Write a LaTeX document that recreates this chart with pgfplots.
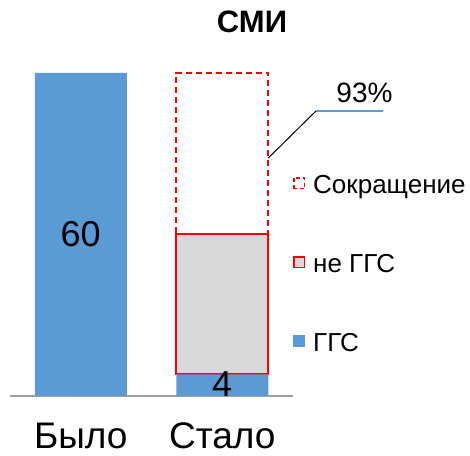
\documentclass[border=0pt]{standalone}
\usepackage{pgfplots}
\pgfplotsset{compat=1.18}
\usepackage{fontspec}
\setmainfont{Liberation Sans}
\definecolor{ggs}{RGB}{91,155,213}
\definecolor{neggs}{RGB}{217,217,217}
\begin{document}
\begin{tikzpicture}[x=1bp,y=1bp]
\useasboundingbox (0,0) rectangle (470,456);
\node[anchor=base, font=\bfseries\fontsize{31bp}{35bp}\selectfont, inner sep=0pt] at (252,423) {СМИ};
\begin{axis}[
  at={(10bp,60bp)}, anchor=south west,
  scale only axis, width=283bp, height=323bp,
  xmin=-0.5, xmax=1.5, ymin=0, ymax=60,
  clip=false,
  ybar stacked, bar width=92bp,
  axis x line=bottom, axis y line=none,
  x axis line style={-, draw=gray!75, line width=1.5bp},
  xtick={0,1}, xticklabels={Было,Стало},
  xtick style={draw=none},
  xticklabel style={font=\fontsize{37bp}{42bp}\selectfont, anchor=base, inner sep=0pt, yshift=-50bp},
  ytick=\empty,
  reverse legend,
  legend cell align=left,
  legend style={at={(1.0,0.682)}, anchor=north west, draw=none, fill=none,
    inner sep=0pt, row sep=55bp, column sep=8bp,
    nodes={inner sep=0pt, text height=18bp, text depth=6bp, font=\fontsize{26bp}{30bp}\selectfont}},
]
\addplot[fill=ggs, draw=none,
  legend image code/.code={\fill[ggs] (0bp,-1.5bp) rectangle (12bp,10.5bp);}]
  coordinates {(1,4) (0,60)};
\addlegendentry{ГГС}
\addplot[fill=neggs, draw=red, line width=2bp,
  legend image code/.code={\draw[fill=neggs, draw=red, line width=1.4bp] (0.7bp,-0.8bp) rectangle (11.3bp,9.8bp);}]
  coordinates {(1,26)};
\addlegendentry{не ГГС}
\addplot[fill=none, draw=red, line width=2bp, dash pattern=on 6bp off 4bp,
  legend image code/.code={\draw[draw=red, line width=1.4bp, dash pattern=on 4bp off 2.5bp] (0.7bp,-0.8bp) rectangle (11.3bp,9.8bp);}]
  coordinates {(1,30)};
\addlegendentry{Сокращение}
\coordinate (lbl60) at (axis cs:0,30);
\coordinate (lbl4) at (axis cs:1,2.2);
\draw[black, line width=1bp] (axis cs:1.325,44.2) -- (axis cs:1.6625,52.94);
\draw[ggs, line width=1.5bp] (axis cs:1.6625,52.94) -- (axis cs:2.136,52.94);
\node[anchor=base, font=\fontsize{28bp}{32bp}\selectfont, inner sep=0pt] at (axis cs:2.005,54.6) {93\%};
\end{axis}
\node[font=\fontsize{36bp}{40bp}\selectfont, inner sep=0pt] at (lbl60) {60};
\node[font=\fontsize{36bp}{40bp}\selectfont, inner sep=0pt] at (lbl4) {4};
\end{tikzpicture}
\end{document}
